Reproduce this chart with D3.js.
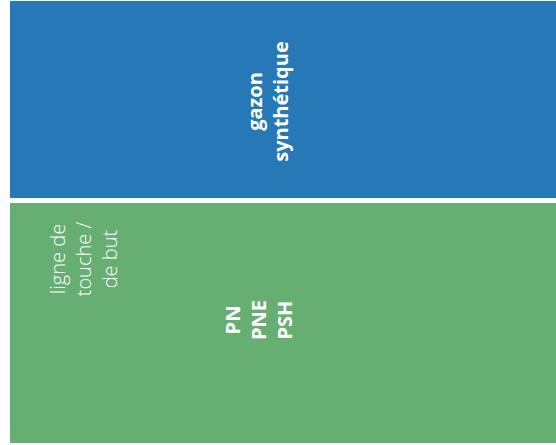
<!DOCTYPE html>
<html>
<head>
<meta charset="utf-8">
<script src="https://cdn.jsdelivr.net/npm/d3@7"></script>
<style>
  html, body { margin: 0; padding: 0; background: #ffffff; }
  svg { display: block; }
  text { font-family: "Open Sans", "Noto Sans", sans-serif; fill: #ffffff; }
</style>
</head>
<body>
<svg id="chart" width="556" height="445"></svg>
<script>
// ---- data ----
const categories = ["gazon synthétique", "ligne de touche / de but"];
const values = [45.2, 54.8];
const boldLabels = [["gazon", "synthétique"], ["PN", "PNE", "PSH"]];
const lightLabels = [[], ["ligne de", "touche /", "de but"]];
const colors = ["#2778b6", "#66ae72"];

// ---- layout ----
const W = 556, H = 445;
const svg = d3.select("#chart");
const total = d3.sum(values);
const y = d3.scaleLinear().domain([0, total]).range([-1.5, 445.5]);
const x = d3.scaleLinear().domain([0, 1]).range([10, 620]);
const inset = 2.5;

const stacked = [];
let acc = 0;
categories.forEach((c, i) => {
  stacked.push({ cat: c, i, y0: acc, y1: acc + values[i] });
  acc += values[i];
});

svg.selectAll("rect.cell")
  .data(stacked)
  .join("rect")
  .attr("class", "cell")
  .attr("x", x(0))
  .attr("width", x(1) - x(0))
  .attr("y", d => y(d.y0) + inset)
  .attr("height", d => y(d.y1) - y(d.y0) - 2 * inset)
  .attr("fill", d => colors[d.i]);

// bold (main) labels, rotated -90
const boldPos = [
  { bx: 262, dyc: 2 },   // first-line baseline (screen x), vertical offset from cell centre
  { bx: 240, dyc: -3 }
];
const lineH = 26;
stacked.forEach(d => {
  const cy = (y(d.y0) + y(d.y1)) / 2 + boldPos[d.i].dyc;
  const t = svg.append("text")
    .attr("transform", `translate(${boldPos[d.i].bx},${cy}) rotate(-90)`)
    .attr("text-anchor", "middle")
    .style("font-size", "20px")
    .style("font-weight", 700);
  boldLabels[d.i].forEach((s, k) => {
    t.append("tspan").attr("x", 0).attr("y", k * lineH).text(s);
  });
});

// light (secondary) labels
stacked.forEach(d => {
  if (!lightLabels[d.i].length) return;
  const cy = y(d.y0) + inset + 56;
  const t = svg.append("text")
    .attr("transform", `translate(65,${cy}) rotate(-90)`)
    .attr("text-anchor", "middle")
    .style("font-size", "20px")
    .style("font-weight", 300);
  lightLabels[d.i].forEach((s, k) => {
    t.append("tspan").attr("x", 0).attr("y", k * lineH).text(s);
  });
});
</script>
</body>
</html>
